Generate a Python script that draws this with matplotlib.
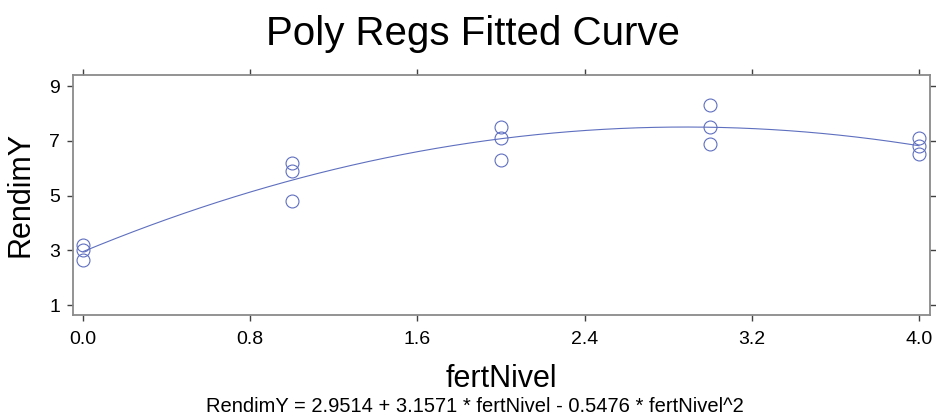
import matplotlib
matplotlib.use("Agg")
import matplotlib.pyplot as plt
import numpy as np

plt.rcParams["font.family"] = ["Liberation Sans", "DejaVu Sans"]

# Dados
fert_nivel = [0, 0, 0, 1, 1, 1, 2, 2, 2, 3, 3, 3, 4, 4, 4]
rendim_y = [3.2, 3.0, 2.65, 6.2, 5.9, 4.8, 7.5, 7.1, 6.3, 8.3, 7.5, 6.9, 7.1, 6.8, 6.5]

# Coeficientes do ajuste (da equação mostrada)
coefs = [2.9514, 3.1571, -0.5476]

x_ticks = [0.0, 0.8, 1.6, 2.4, 3.2, 4.0]
x_tick_labels = ["0.0", "0.8", "1.6", "2.4", "3.2", "4.0"]
y_ticks = [1, 3, 5, 7, 9]

cor = "#5e6fbf"

fig = plt.figure(figsize=(9.36, 4.19), dpi=100)
ax = fig.add_axes([0.0775, 0.2489, 0.9161, 0.5728])

x_curva = np.linspace(0, 4, 200)
y_curva = coefs[0] + coefs[1] * x_curva + coefs[2] * x_curva ** 2
ax.plot(x_curva, y_curva, color=cor, linewidth=0.8)

ax.plot(fert_nivel, rendim_y, linestyle="none", marker="o", markersize=9.3,
        markerfacecolor="none", markeredgecolor=cor, markeredgewidth=0.8)

ax.set_xlim(-0.0502, 4.0526)
ax.set_ylim(0.646, 9.413)
ax.set_xticks(x_ticks)
ax.set_xticklabels(x_tick_labels)
ax.set_yticks(y_ticks)

ax.tick_params(axis="both", direction="out", length=4, width=1, color="#404040",
               labelsize=14, top=True, right=True)
ax.tick_params(axis="x", pad=8)
ax.tick_params(axis="y", pad=5)
for s in ax.spines.values():
    s.set_color("#8a8a8a")
    s.set_linewidth(1.3)

ax.set_xlabel("fertNivel", fontsize=22, labelpad=11)
ax.set_ylabel("RendimY", fontsize=22, labelpad=10)

fig.text(0.505, 0.918, "Poly Regs Fitted Curve", fontsize=29, ha="center", va="center")
fig.text(0.507, 0.031, "RendimY = 2.9514 + 3.1571 * fertNivel - 0.5476 * fertNivel^2",
         fontsize=14.5, ha="center", va="center")

fig.savefig("out.png", dpi=100)
